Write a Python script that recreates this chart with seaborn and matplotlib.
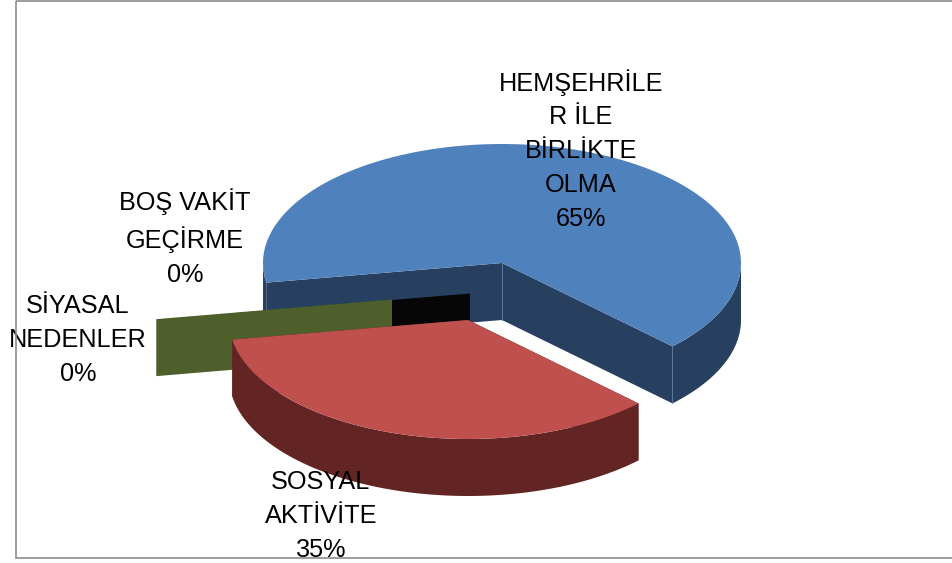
import numpy as np
import matplotlib
matplotlib.use("Agg")
import matplotlib.pyplot as plt
import seaborn as sns

# --- data ---
categories = ["HEMŞEHRİLE\nR İLE\nBİRLİKTE\nOLMA", "BOŞ VAKİT\nGEÇİRME", "SİYASAL\nNEDENLER", "SOSYAL\nAKTİVİTE"]
values = [65, 0, 0, 35]

# --- style / layout ---
top_colors = ["#4F81BD", "#060606", "#4F5F2C", "#C0504D"]
side_colors = ["#27405F", "#060606", "#4F5F2C", "#632523"]
offsets = [(0, 0), (-32, 30.5), (-110, 36.5), (-34, 57)]   # explosion of each slice, px
label_pos = [(581, 150), (185, 238), (78, 340), (321, 516)]
CX, CY, RX, RY, DEPTH = 502, 263, 239, 119, 57
START = -44.5

sns.set_theme(style="white")
plt.rcParams["font.family"] = ["Liberation Sans", "DejaVu Sans"]
palette = sns.color_palette(top_colors)
side_palette = sns.color_palette(side_colors)

fig = plt.figure(figsize=(9.52, 5.63), dpi=100)
ax = fig.add_axes([0, 0, 1, 1])
ax.set_xlim(0, 952)
ax.set_ylim(563, 0)
ax.axis("off")


def arc(cx, cy, a0, a1, dz=0, n=120):
    t = np.radians(np.linspace(a0, a1, n))
    return np.column_stack([cx + RX * np.cos(t), cy - RY * np.sin(t) + dz])


def rim(cx, cy, a0, a1, color, z):
    """Outer wall between two angles, only where it faces the viewer (180..360)."""
    for shift in (0, 360, -360):
        lo, hi = max(a0 + shift, 180), min(a1 + shift, 360)
        if hi > lo:
            pts = np.vstack([arc(cx, cy, lo, hi), arc(cx, cy, lo, hi, DEPTH)[::-1]])
            ax.fill(pts[:, 0], pts[:, 1], color=color, lw=0, zorder=z)


total = sum(values)
spans = [v / total * 360 for v in values]
starts = START + np.concatenate([[0], np.cumsum(spans)[:-1]])

for i, zbase in zip(range(4), [1, 2, 3, 4]):
    a0, span = starts[i], spans[i]
    a1 = a0 + span
    cx, cy = CX + offsets[i][0], CY + offsets[i][1]
    top, side = palette[i], side_palette[i]
    if span == 0:
        # zero-valued slice: a flat radial slab
        p = arc(cx, cy, a0, a0, n=1)[0]
        ax.fill([cx, p[0], p[0], cx], [cy, p[1], p[1] + DEPTH, cy + DEPTH],
                color=top, lw=0, zorder=zbase)
        continue
    # inner walls
    for a in (a0, a1):
        p = arc(cx, cy, a, a, n=1)[0]
        ax.fill([cx, p[0], p[0], cx], [cy, p[1], p[1] + DEPTH, cy + DEPTH],
                color=side, lw=0, zorder=zbase)
    rim(cx, cy, a0, a1, side, zbase)
    # top face
    pts = np.vstack([[cx, cy], arc(cx, cy, a0, a1), [cx, cy]])
    ax.fill(pts[:, 0], pts[:, 1], color=top, lw=0, zorder=zbase + 0.5)
    # pale seams on the wall corners of the back slice
    if i == 0:
        pa = arc(cx, cy, a0, a0, n=1)[0]
        ax.plot([pa[0], pa[0]], [pa[1], pa[1] + DEPTH], color="#5F7A99", lw=0.7, zorder=zbase + 0.2)
        ax.plot([cx, cx], [cy, cy + DEPTH], color="#5F7A99", lw=0.7, zorder=zbase + 0.2)

# labels
for name, v, (x, y) in zip(categories, values, label_pos):
    ax.text(x, y, f"{name}\n{v / total:.0%}", ha="center", va="center",
            fontsize=18.2, color="black", linespacing=1.52, zorder=6)

# chart frame
ax.add_patch(plt.Rectangle((15.5, 0.5), 960, 557.5, fill=False, ec="#8C8C8C", lw=1.2, zorder=7))
sns.despine(ax=ax, left=True, bottom=True)

fig.savefig("out.png", dpi=100)
